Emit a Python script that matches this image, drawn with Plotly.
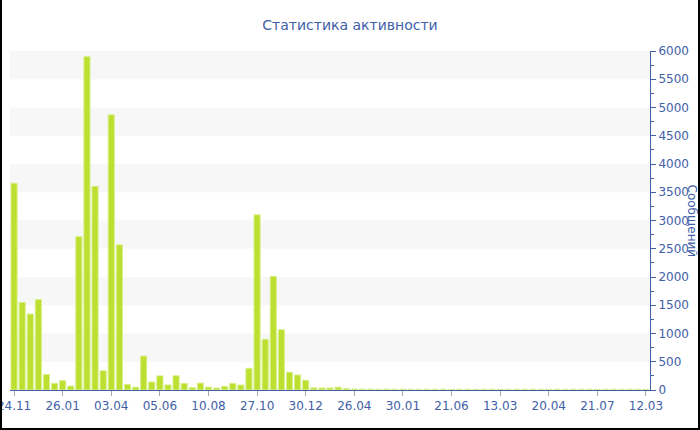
import plotly.graph_objs as go

# Activity data: one bar per period, every 6th bar has a date label
messages = [3660, 1550, 1345, 1600, 275, 118, 165, 70, 2715, 5900,
            3605, 340, 4870, 2570, 100, 50, 600, 142, 250, 90,
            252, 118, 42, 122, 52, 35, 65, 118, 88, 385,
            3100, 897, 2010, 1068, 315, 265, 172, 38, 36, 36,
            50, 24, 18, 15, 14, 12, 14, 12, 13, 12,
            11, 12, 12, 13, 11, 12, 12, 11, 12, 12,
            12, 11, 12, 12, 12, 11, 12, 12, 11, 12,
            12, 12, 11, 12, 12, 11, 12, 12, 11]
tick_labels = ['24.11', '26.01', '03.04', '05.06', '10.08', '27.10', '30.12',
               '26.04', '30.01', '21.06', '13.03', '20.04', '21.07', '12.03']
tick_step = 6

blue = '#4160a8'
font = 'Verdana, DejaVu Sans, sans-serif'

W, H = 700, 430
ml, mr, mt, mb = 10, 50, 51, 40
pw = W - ml - mr
ph = H - mt - mb

x = list(range(len(messages)))

trace = go.Bar(x=x, y=messages,
               width=0.76,
               marker=dict(color='#bcdf30',
                           line=dict(color='#d9ef8a', width=1)),
               hoverinfo='y')

fig = go.Figure(data=[trace])

# alternating grey bands
shapes = []
for lo in range(500, 6000, 1000):
    shapes.append(dict(type='rect', xref='paper', yref='y',
                       x0=0, x1=1, y0=lo, y1=lo + 500,
                       fillcolor='#f7f7f7', line=dict(width=0),
                       layer='below'))


def px(v):
    return (v - ml) / pw


def py(v):
    return (H - mb - v) / ph


# outer frame (left, bottom, right)
frame = dict(color='black', width=2)
shapes.append(dict(type='line', xref='paper', yref='paper',
                   x0=px(1), x1=px(1), y0=py(0), y1=py(H - 1), line=frame))
shapes.append(dict(type='line', xref='paper', yref='paper',
                   x0=px(0), x1=px(W), y0=py(H - 1), y1=py(H - 1), line=frame))
shapes.append(dict(type='line', xref='paper', yref='paper',
                   x0=px(W - 1), x1=px(W - 1), y0=py(0), y1=py(H - 1), line=frame))

fig.update_layout(
    width=W, height=H,
    margin=dict(l=ml, r=mr, t=mt, b=mb, autoexpand=False),
    paper_bgcolor='white', plot_bgcolor='white',
    showlegend=False,
    font=dict(family=font, color=blue, size=12),
    title=dict(text='Статистика активности', x=0.5, xanchor='center',
               y=1 - 25 / H, yanchor='middle', yref='container',
               font=dict(family=font, size=14, color=blue)),
    xaxis=dict(range=[-0.5, len(messages) - 0.5],
               tickmode='array',
               tickvals=x[::tick_step],
               ticktext=tick_labels,
               ticks='outside', ticklen=5, tickcolor='#a0a4b0',
               showline=True, linecolor=blue, linewidth=1,
               showgrid=False, zeroline=False, automargin=False,
               ticklabeloverflow='allow',
               tickfont=dict(size=12, color=blue)),
    yaxis=dict(side='right', range=[0, 6000], dtick=500,
               ticks='outside', ticklen=5, tickcolor=blue,
               minor=dict(dtick=250, ticks='outside', ticklen=3,
                          tickcolor=blue, showgrid=False),
               showline=True, linecolor=blue, linewidth=1,
               showgrid=False, zeroline=False, automargin=False,
               ticklabeloverflow='allow',
               tickfont=dict(size=12, color=blue)),
    shapes=shapes,
    annotations=[dict(text='Сообщений', xref='paper', yref='paper',
                      x=px(692), y=0.5, xanchor='center',
                      yanchor='middle', textangle=90, showarrow=False,
                      font=dict(family=font, size=12, color=blue))],
)

# the page has a default body margin; drop it so the chart sits at 0,0
fig.write_html('out.html', config={'displayModeBar': False},
               post_script="document.body.style.margin='0';")
